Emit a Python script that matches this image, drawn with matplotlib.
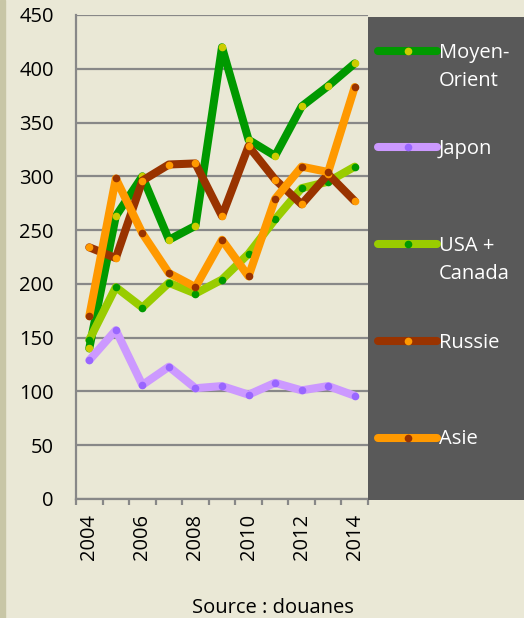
import matplotlib.pyplot as plt
from matplotlib.patches import Rectangle
from matplotlib.lines import Line2D

plt.rcParams['font.family'] = ['Open Sans', 'DejaVu Sans']

years = list(range(2004, 2015))
moyen_orient = [140, 263, 300, 241, 254, 420, 334, 319, 365, 384, 405]
japon = [129, 157, 106, 123, 103, 105, 97, 108, 101, 105, 96]
usa_canada = [148, 197, 178, 201, 191, 204, 228, 260, 289, 295, 309]
russie = [234, 224, 296, 311, 312, 263, 328, 297, 274, 302, 277]
asie = [170, 298, 247, 210, 197, 241, 207, 279, 309, 304, 383]

labels = ['Moyen-\nOrient', 'Japon', 'USA +\nCanada', 'Russie', 'Asie']
series = [moyen_orient, japon, usa_canada, russie, asie]
line_colors = ['#009900', '#cc99ff', '#99cc00', '#993300', '#ff9900']
marker_colors = ['#cccc00', '#9966ff', '#009900', '#ff9900', '#993300']

W, H = 524, 618
bg = '#eae8d6'
fig = plt.figure(figsize=(W / 100, H / 100), dpi=100, facecolor=bg)

# darker strip on the left edge
fig.patches.append(Rectangle((0, 0), 5 / W, 1, transform=fig.transFigure,
                             color='#c8c6a6', zorder=0))

ax = fig.add_axes([76 / W, (H - 499) / H, 292 / W, 484 / H])
ax.set_facecolor(bg)

x = list(range(len(years)))
for vals, lc, mc in zip(series, line_colors, marker_colors):
    ax.plot(x, vals, color=lc, lw=5.8, solid_capstyle='round',
            solid_joinstyle='round', marker='o', ms=5.5,
            mfc=mc, mec=mc, mew=0, zorder=3)

ax.set_ylim(0, 450)
ax.set_yticks(range(0, 451, 50))
ax.set_xlim(-0.5, len(years) - 0.5)
ax.set_xticks([i for i in x if years[i] % 2 == 0])
ax.set_xticklabels([str(y) for y in years if y % 2 == 0], rotation=90)
ax.set_xticks([i - 0.5 for i in range(len(years) + 1)], minor=True)

ax.grid(axis='y', color='#888888', lw=1.6, zorder=1)
ax.set_axisbelow(True)
for s in ['top', 'right']:
    ax.spines[s].set_visible(False)
for s in ['left', 'bottom']:
    ax.spines[s].set_color('#888888')
    ax.spines[s].set_linewidth(1.6)

ax.tick_params(axis='y', length=0, pad=16, labelsize=14.5)
ax.tick_params(axis='x', which='major', length=0, pad=11, labelsize=14.5)
ax.tick_params(axis='x', which='minor', length=4.5, width=1.6, color='#888888')

# legend box
lax = fig.add_axes([368 / W, (H - 500) / H, 156 / W, 483 / H])
lax.set_facecolor('#595959')
lax.set_xlim(0, 156)
lax.set_ylim(483, 0)
lax.axis('off')
lax.add_patch(Rectangle((0, 0), 156, 483, color='#595959', zorder=0))

for i, (lab, lc, mc) in enumerate(zip(labels, line_colors, marker_colors)):
    y0 = 33.7 + i * 96.7
    lax.add_line(Line2D([10, 69], [y0, y0], color=lc, lw=5.8,
                        solid_capstyle='round'))
    lax.plot([40], [y0], 'o', ms=5.5, mfc=mc, mec=mc, mew=0)
    for j, part in enumerate(lab.split('\n')):
        lax.text(71, y0 + 7 + j * 28, part, color='white', fontsize=14.5,
                 va='baseline', ha='left')

fig.text(273 / W, (H - 613) / H, 'Source : douanes', ha='center',
         va='baseline', fontsize=14.5, color='black')

fig.savefig('out.png', dpi=100, facecolor=bg)
